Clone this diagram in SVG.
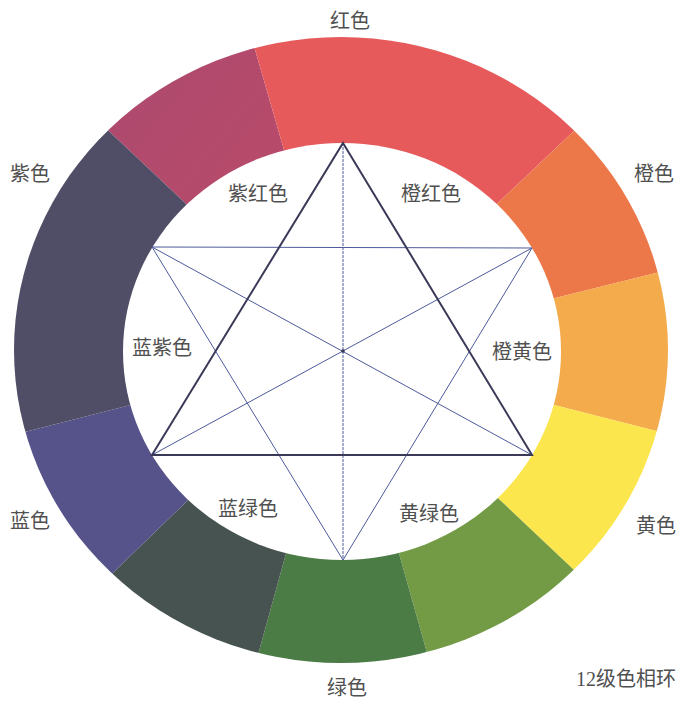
<svg xmlns="http://www.w3.org/2000/svg" width="679" height="701" viewBox="0 0 679 701">
  <style>
    .lbl { font-family: "Liberation Serif", "Noto Sans CJK SC", serif; font-size: 20px; fill: #505050; text-anchor: middle; }
    .thick { stroke: #3a3a58; stroke-width: 2; fill: none; stroke-linejoin: miter; }
    .thin { stroke: #4e5a9c; stroke-width: 1; fill: none; }
  </style>
  <defs>
    <clipPath id="outerClip">
      <ellipse cx="341" cy="350" rx="327" ry="313"/>
    </clipPath>
    <linearGradient id="purpleRed" x1="0" y1="0" x2="1" y2="1">
      <stop offset="0" stop-color="#94487a"/>
      <stop offset="1" stop-color="#c04b66"/>
    </linearGradient>
  </defs>
  <rect width="679" height="701" fill="#ffffff"/>

  <g id="wheel" clip-path="url(#outerClip)">
    <polygon id="seg-purple-red" points="342,351 -173,-135 151,-311" fill="url(#purpleRed)"/>
    <polygon id="seg-red" points="342,351 151,-311 850,-131" fill="#e65a5b"/>
    <polygon id="seg-orange" points="342,351 850,-131 1042,177" fill="#ec784a"/>
    <polygon id="seg-orange-yellow" points="342,351 1042,177 1042,529" fill="#f4ab4b"/>
    <polygon id="seg-yellow" points="342,351 1042,529 859,839" fill="#fbe64e"/>
    <polygon id="seg-yellow-green" points="342,351 859,839 529,1015" fill="#739b45"/>
    <polygon id="seg-green" points="342,351 529,1015 157,1020" fill="#4b7c46"/>
    <polygon id="seg-blue-green" points="342,351 157,1020 -162,839" fill="#475350"/>
    <polygon id="seg-blue" points="342,351 -162,839 -355,529" fill="#56528a"/>
    <polygon id="seg-violet" points="342,351 -355,529 -173,-135" fill="#4f4e66"/>
  </g>
  <ellipse id="inner" cx="342" cy="351.5" rx="219" ry="208.5" fill="#ffffff"/>

  <g id="connectors">
    <line class="thin" x1="343" y1="143" x2="343" y2="560" stroke-dasharray="3 1"/>
    <line class="thin" x1="152" y1="247" x2="532" y2="455"/>
    <line class="thin" x1="532" y1="248" x2="152" y2="455"/>
    <line class="thin" x1="152" y1="247" x2="343" y2="560"/>
    <line class="thin" x1="532" y1="248" x2="343" y2="560"/>
    <line class="thin" x1="152" y1="247" x2="532" y2="248" stroke-width="1.3" stroke="#4a4f80"/>
    <polygon class="thick" points="343,143 532,455 152,455"/>
    <circle cx="343" cy="351" r="1.8" fill="#3a3a58"/>
  </g>

  <g id="outer-labels">
    <g id="label-red"><text class="lbl" x="350" y="28">红色</text></g>
    <g id="label-orange"><text class="lbl" x="654" y="181">橙色</text></g>
    <g id="label-yellow"><text class="lbl" x="656" y="533">黄色</text></g>
    <g id="label-green"><text class="lbl" x="347" y="695">绿色</text></g>
    <g id="label-blue"><text class="lbl" x="30" y="528">蓝色</text></g>
    <g id="label-violet"><text class="lbl" x="30" y="181">紫色</text></g>
  </g>
  <g id="inner-labels">
    <g id="label-purple-red"><text class="lbl" x="258" y="201">紫红色</text></g>
    <g id="label-orange-red"><text class="lbl" x="431" y="201">橙红色</text></g>
    <g id="label-orange-yellow"><text class="lbl" x="522" y="359">橙黄色</text></g>
    <g id="label-yellow-green"><text class="lbl" x="429" y="521">黄绿色</text></g>
    <g id="label-blue-green"><text class="lbl" x="248" y="516">蓝绿色</text></g>
    <g id="label-blue-violet"><text class="lbl" x="162" y="355">蓝紫色</text></g>
  </g>
  <g id="caption"><text class="lbl" x="626" y="686">12级色相环</text></g>
</svg>
